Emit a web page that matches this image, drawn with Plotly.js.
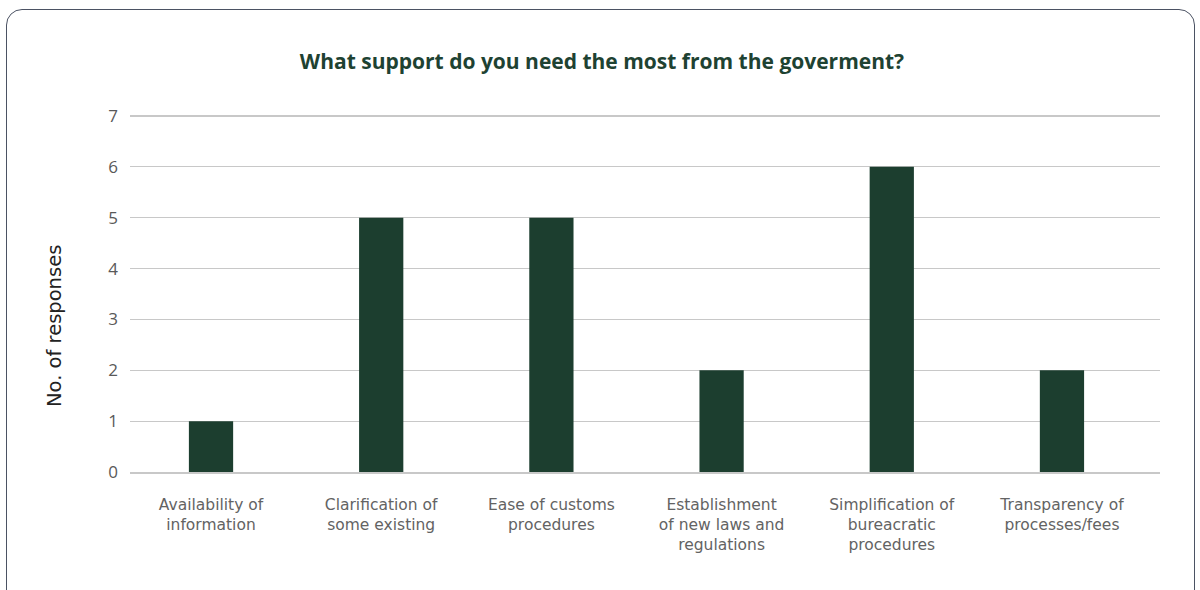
<!DOCTYPE html>
<html>
<head>
<meta charset="utf-8">
<script src="https://cdn.plot.ly/plotly-3.0.1.min.js"></script>
<style>
  html, body { margin: 0; padding: 0; background: #ffffff; }
  #wrap { position: relative; width: 1200px; height: 590px; overflow: hidden; }
  #chart { position: absolute; left: 0; top: 0; width: 1200px; height: 590px; }
  #frame { position: absolute; left: 6px; top: 9px; width: 1189px; height: 620px;
           border: 1.5px solid #4b5263; border-radius: 16px; pointer-events: none; box-sizing: border-box; }
</style>
</head>
<body>
<div id="wrap">
  <div id="chart"></div>
  <div id="frame"></div>
</div>
<script>
const categories = [
  "Availability of<br>information",
  "Clarification of<br>some existing",
  "Ease of customs<br>procedures",
  "Establishment<br>of new laws and<br>regulations",
  "Simplification of<br>bureacratic<br>procedures",
  "Transparency of<br>processes/fees"
];
const responses = [1, 5, 5, 2, 6, 2];
const yTicks = [0, 1, 2, 3, 4, 5, 6, 7];
const yTitle = "No. of responses";
const chartTitle = "What support do you need the most from the goverment?";

const FONT = "'Open Sans', sans-serif";
const WIDE = "'DejaVu Sans', sans-serif";

const data = [{
  type: "bar",
  x: categories,
  y: responses,
  marker: { color: "#1c3e2f" },
  hoverinfo: "x+y"
}];

const L = 130, R = 40, T = 115, B = 118;
const plotW = 1200 - L - R, plotH = 590 - T - B;

const layout = {
  width: 1200,
  height: 590,
  paper_bgcolor: "rgba(0,0,0,0)",
  plot_bgcolor: "rgba(0,0,0,0)",
  margin: { l: L, r: R, t: T, b: B },
  bargap: 0.74,
  showlegend: false,
  title: {
    text: "<b>" + chartTitle + "</b>",
    font: { family: FONT, size: 21, color: "#1e4232" },
    x: 602 / 1200, xref: "container", xanchor: "center",
    y: 1 - 62 / 590, yref: "container", yanchor: "middle"
  },
  xaxis: {
    type: "category",
    range: [-0.476, 5.576],
    showgrid: false,
    showline: true,
    linecolor: "#c8c8c8",
    linewidth: 1.5,
    ticks: "",
    ticklabelstandoff: 18,
    tickfont: { family: WIDE, size: 15.5, color: "#636363" },
    zeroline: false
  },
  yaxis: {
    range: [0, 7.02],
    tickvals: yTicks,
    showgrid: true,
    gridcolor: "#c8c8c8",
    gridwidth: 1.2,
    zeroline: false,
    showline: false,
    ticks: "",
    ticklabelstandoff: 11,
    tickfont: { family: FONT, size: 17, color: "#595959" }
  },
  annotations: [{
    text: yTitle,
    textangle: -90,
    xref: "paper", yref: "paper",
    x: (54 - L) / plotW, y: (472 - 326) / plotH,
    xanchor: "center", yanchor: "middle",
    showarrow: false,
    font: { family: WIDE, size: 19.5, color: "#222222" }
  }]
};

Plotly.newPlot("chart", data, layout, { displayModeBar: false, staticPlot: true });
</script>
</body>
</html>
